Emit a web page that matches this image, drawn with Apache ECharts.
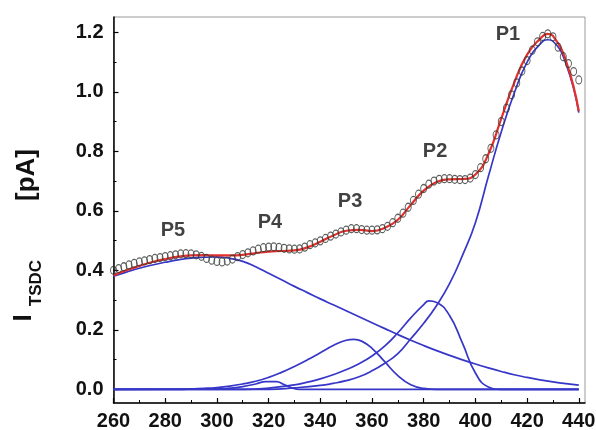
<!DOCTYPE html>
<html>
<head>
<meta charset="utf-8">
<script src="https://cdn.jsdelivr.net/npm/echarts@6/dist/echarts.min.js"></script>
<style>
  html, body { margin: 0; padding: 0; background: #fff; }
  #chart { width: 596px; height: 430px; }
</style>
</head>
<body>
<div id="chart"></div>
<script>
// Experimental TSDC points (open circles)
const expT = [260,262,264,266,268,270,272,274,276,278,280,282,284,286,288,290,292,294,296,298,
              300,302,304,306,308,310,312,314,316,318,320,322,324,326,328,330,332,334,336,338,
              340,342,344,346,348,350,352,354,356,358,360,362,364,366,368,370,372,374,376,378,
              380,382,384,386,388,390,392,394,396,398,400,402,404,406,408,410,412,414,416,418,
              420,422,424,426,428,430,432,434,436,438,440];
const expI = [0.400,0.406,0.412,0.418,0.423,0.428,0.432,0.436,0.440,0.443,0.446,0.449,0.452,0.455,0.456,0.455,0.452,0.447,0.440,0.434,
              0.430,0.428,0.431,0.438,0.446,0.453,0.459,0.465,0.471,0.476,0.478,0.479,0.477,0.474,0.472,0.471,0.472,0.478,0.486,0.492,
              0.499,0.507,0.515,0.522,0.529,0.535,0.540,0.540,0.537,0.535,0.535,0.536,0.540,0.548,0.560,0.575,0.592,0.612,0.635,0.656,
              0.675,0.690,0.700,0.706,0.708,0.708,0.706,0.705,0.705,0.710,0.722,0.745,0.775,0.810,0.855,0.900,0.945,0.990,1.030,1.070,
              1.105,1.140,1.168,1.186,1.195,1.185,1.150,1.118,1.095,1.068,1.040];

// Fitted sum (red)
const fitT = [260,265,270,275,280,285,290,295,300,305,310,315,320,325,330,335,340,345,350,355,
              360,365,370,375,380,385,390,395,400,405,410,415,420,425,428,430,435,440];
const fitI = [0.383,0.400,0.415,0.428,0.438,0.446,0.450,0.451,0.450,0.450,0.452,0.458,0.463,0.465,0.467,0.477,0.496,0.517,0.533,0.536,
              0.532,0.543,0.570,0.620,0.668,0.697,0.706,0.707,0.722,0.790,0.910,1.030,1.125,1.178,1.195,1.188,1.105,0.935];

// Deconvoluted components (blue)
const p5T = [260,265,270,275,280,285,290,295,300,305,310,315,320,325,330,335,340,345,350,355,
             360,365,370,375,380,385,390,395,400,405,410,415,420,425,430,435,440];
const p5I = [0.380,0.394,0.407,0.418,0.427,0.435,0.441,0.444,0.445,0.440,0.430,0.412,0.390,0.368,0.346,0.325,0.304,0.284,0.264,0.244,
             0.224,0.204,0.184,0.165,0.147,0.130,0.114,0.099,0.085,0.072,0.060,0.049,0.040,0.032,0.025,0.019,0.014];

const p4T = [260,300,305,310,315,319,323,326,329,332,440];
const p4I = [0,0.001,0.004,0.009,0.018,0.026,0.026,0.016,0.005,0,0];

const p3T = [260,285,290,295,300,305,310,315,320,325,330,335,340,345,350,353,356,360,365,370,375,380,385,440];
const p3I = [0,0,0.001,0.003,0.006,0.011,0.018,0.027,0.040,0.057,0.077,0.099,0.123,0.147,0.165,0.168,0.162,0.138,0.092,0.046,0.015,0.003,0,0];

const p2T = [260,310,320,330,335,340,345,350,355,360,365,370,375,380,382,385,390,395,400,405,410,440];
const p2I = [0,0,0.004,0.015,0.024,0.035,0.049,0.066,0.086,0.112,0.146,0.190,0.240,0.285,0.297,0.292,0.248,0.155,0.055,0.008,0,0];

const p1T = [260,320,330,340,345,350,355,360,365,370,375,380,385,390,395,400,405,410,415,420,425,428,430,435,440];
const p1I = [0,0,0.005,0.013,0.020,0.029,0.042,0.062,0.088,0.120,0.170,0.222,0.282,0.355,0.450,0.560,0.715,0.865,0.995,1.100,1.160,1.175,1.170,1.095,0.930];

// Peak annotations (data coordinates)
const peakNames  = ['P1','P2','P3','P4','P5'];
const peakLabelT = [412.6, 384.4, 351.5, 320.5, 283.0];
const peakLabelI = [1.194, 0.798, 0.630, 0.562, 0.535];

// Tick values
const xMajorTicks = [260,280,300,320,340,360,380,400,420,440];
const xMinorTicks = [270,290,310,330,350,370,390,410,430];
const yMajorTicks = [0,0.2,0.4,0.6,0.8,1.0,1.2];
const yMinorTicks = [0.1,0.3,0.5,0.7,0.9,1.1];

const pairs = (xs, ys) => xs.map((x, i) => [x, ys[i]]);

const BLUE = '#3636c8';
const FONT = '"Liberation Sans", Arial, sans-serif';
const X_MIN = 260, X_MAX = 442.4, Y_MIN = -0.046, Y_MAX = 1.2515;

const chart = echarts.init(document.getElementById('chart'), null, { renderer: 'canvas' });

const compSeries = [[p5T,p5I],[p4T,p4I],[p3T,p3I],[p2T,p2I],[p1T,p1I]].map(([t, v], k) => ({
  type: 'line',
  name: 'P' + (5 - k),
  data: pairs(t, v),
  smooth: 0.5,
  showSymbol: false,
  symbol: 'none',
  lineStyle: { color: BLUE, width: 1.7 },
  z: 2
}));

chart.setOption({
  animation: false,
  backgroundColor: '#ffffff',
  grid: {
    left: 113.5, right: 11, top: 17, bottom: 27,
    show: true, borderColor: '#9a9a9a', borderWidth: 1,
    containLabel: false, outerBoundsMode: 'none'
  },
  xAxis: [
    {
      type: 'value', min: X_MIN, max: X_MAX,
      axisLine: { show: true, onZero: false, lineStyle: { color: '#000', width: 1.5 } },
      axisTick: { show: true, inside: true, length: 5, customValues: xMajorTicks, lineStyle: { color: '#000', width: 1.2 } },
      axisLabel: { show: true, customValues: xMajorTicks, margin: 8, color: '#111', fontSize: 20, fontWeight: 'bold', fontFamily: FONT,
                   formatter: v => String(v) },
      splitLine: { show: false }
    },
    {
      type: 'value', min: X_MIN, max: X_MAX, position: 'bottom',
      axisLine: { show: false, onZero: false },
      axisTick: { show: true, inside: true, length: 3, customValues: xMinorTicks, lineStyle: { color: '#000', width: 1 } },
      axisLabel: { show: false },
      splitLine: { show: false }
    }
  ],
  yAxis: [
    {
      type: 'value', min: Y_MIN, max: Y_MAX,
      axisLine: { show: true, onZero: false, lineStyle: { color: '#000', width: 1.5 } },
      axisTick: { show: true, inside: true, length: 5, customValues: yMajorTicks, lineStyle: { color: '#000', width: 1.2 } },
      axisLabel: { show: true, customValues: yMajorTicks, margin: 10, color: '#111', fontSize: 20, fontWeight: 'bold', fontFamily: FONT,
                   formatter: v => v.toFixed(1) },
      splitLine: { show: false }
    },
    {
      type: 'value', min: Y_MIN, max: Y_MAX, position: 'left',
      axisLine: { show: false, onZero: false },
      axisTick: { show: true, inside: true, length: 3, customValues: yMinorTicks, lineStyle: { color: '#000', width: 1 } },
      axisLabel: { show: false },
      splitLine: { show: false }
    }
  ],
  graphic: [
    { type: 'text', x: 24, y: 318, rotation: Math.PI / 2,
      style: { text: 'I', font: 'bold 26px ' + FONT, fill: '#111', align: 'center', verticalAlign: 'middle' } },
    { type: 'text', x: 36.5, y: 283, rotation: Math.PI / 2,
      style: { text: 'TSDC', font: 'bold 17px ' + FONT, fill: '#111', align: 'center', verticalAlign: 'middle' } },
    { type: 'text', x: 27, y: 175, rotation: Math.PI / 2,
      style: { text: '[pA]', font: 'bold 26px ' + FONT, fill: '#111', align: 'center', verticalAlign: 'middle' } }
  ],
  series: [
    ...compSeries,
    {
      type: 'line',
      name: 'fit',
      data: pairs(fitT, fitI),
      smooth: 0.5,
      showSymbol: false,
      symbol: 'none',
      lineStyle: { color: '#e2302c', width: 2.2 },
      z: 3
    },
    {
      type: 'scatter',
      name: 'experiment',
      data: pairs(expT, expI),
      symbol: 'circle',
      symbolSize: [6, 8],
      itemStyle: { color: 'rgba(255,255,255,0)', borderColor: '#343a36', borderWidth: 1.1 },
      z: 4
    },
    {
      type: 'scatter',
      name: 'labels',
      data: peakNames.map((n, i) => ({ name: n, value: [peakLabelT[i], peakLabelI[i]] })),
      symbolSize: 1,
      itemStyle: { color: 'rgba(0,0,0,0)' },
      label: { show: true, position: 'inside', formatter: p => p.name, color: '#111', fontSize: 20, fontWeight: 'bold', fontFamily: FONT },
      z: 5
    }
  ]
});
</script>
</body>
</html>
